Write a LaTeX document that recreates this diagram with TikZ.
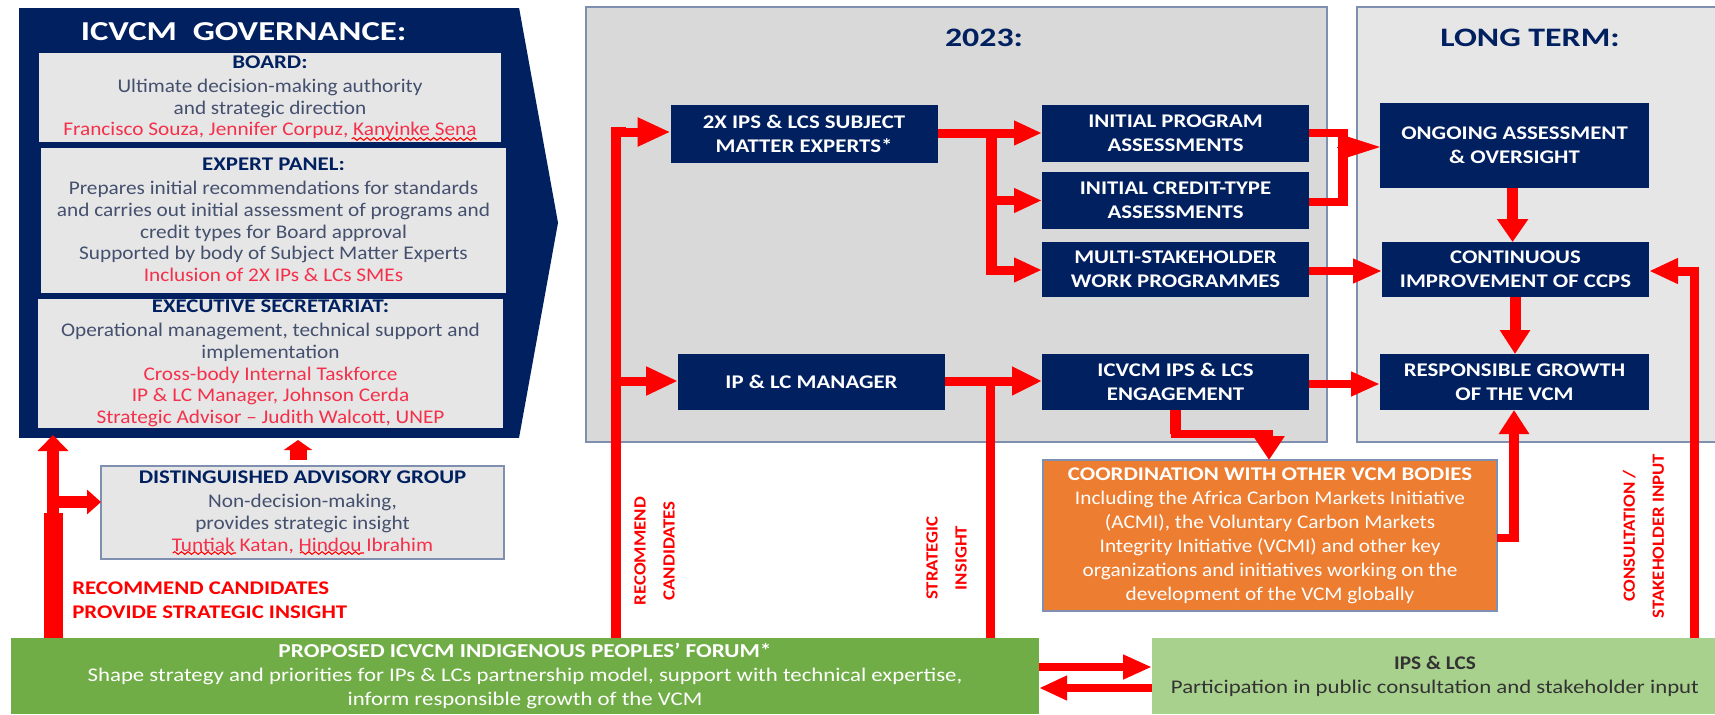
\documentclass[tikz,border=0pt]{standalone}
\usepackage{fontspec}
\setmainfont{Carlito}
\newfontfamily\fa[FakeStretch=1.10]{Carlito}
\newfontfamily\fb[FakeStretch=1.18]{Carlito}
\newfontfamily\fc[FakeStretch=1.27]{Carlito}
\usetikzlibrary{arrows.meta,decorations.pathmorphing}
\definecolor{navy}{HTML}{002060}
\definecolor{bodytx}{HTML}{44506E}
\definecolor{redtx}{HTML}{F5304A}
\definecolor{panelbd}{HTML}{7F8FB0}
\definecolor{pdark}{HTML}{D9D9D9}
\definecolor{plight}{HTML}{E6E6E6}
\definecolor{orangeb}{HTML}{ED7D31}
\definecolor{greend}{HTML}{70AD47}
\definecolor{greenl}{HTML}{A9D18E}
\def\u{0.75pt}
\newcommand{\rt}[1]{{\color{redtx}#1}}
\newcommand{\hd}[1]{{\color{navy}\fb\bfseries #1}}
\tikzset{
  sz/.style 2 args={minimum width=#1*\u,minimum height=#2*\u,inner sep=0pt,outer sep=0pt},
  graybox/.style={fill=plight,align=center,text=bodytx,font=\fa\fontsize{14.5}{16.3}\selectfont},
  panel/.style={draw=panelbd,line width=2.2pt},
  navybox/.style={fill=navy,text=white,align=center,font=\fb\fontsize{14.5}{18}\selectfont\bfseries},
  ln/.style={draw=red,line width=#1*\u},
  ln/.default=9,
  arw/.style 2 args={-{Triangle[length=#1*0.75pt,width=#2*0.75pt]}},
  lbl/.style={text=red,font=\fb\fontsize{14.5}{18}\selectfont\bfseries,align=center,inner sep=0pt},
  rotlbl/.style={text=red,rotate=90,font=\fa\fontsize{12.8}{21.8}\selectfont\bfseries,align=center,inner sep=0pt},
  squig/.style={draw=red,line width=0.8pt,decorate,decoration={snake,amplitude=1pt,segment length=5pt}}
}
\begin{document}
\begin{tikzpicture}[x=0.75pt,y=-0.75pt]
\useasboundingbox (0,0) rectangle (1715,714);
\clip (0,0) rectangle (1715,714);
% panels
\node[panel,fill=pdark,sz={741}{435}] (p23) at (956.5,224.5) {};
\node[panel,fill=plight,sz={374}{435}] (plt) at (1544,224.5) {};
\node[inner sep=0pt,font=\fc\fontsize{20}{24}\selectfont\bfseries,text=navy] (t23) at (984,38) {2023:};
\node[inner sep=0pt,font=\fc\fontsize{20}{24}\selectfont\bfseries,text=navy] (tlt) at (1530,38) {LONG TERM:};
% governance
\node[fill=navy,sz={500}{430.5}] (gov) at (269,222.75) {};
\fill[navy] (gov.north east) -- (558,222.7) -- (gov.south east) -- cycle;
\node[inner sep=0pt,text=white,font=\fc\fontsize{20.5}{24}\selectfont\bfseries] (tgov) at (243.6,32) {ICVCM\ \ GOVERNANCE:};
\node[graybox,sz={462}{89}] (board) at (270,97.5) {\hd{BOARD:}\\[1.6pt]Ultimate decision-making authority\\and strategic direction\\\rt{Francisco Souza, Jennifer Corpuz, Kanyinke Sena}};
\node[graybox,sz={465}{145}] (expert) at (273.5,220) {\hd{EXPERT PANEL:}\\[1.6pt]Prepares initial recommendations for standards\\and carries out initial assessment of programs and\\credit types for Board approval\\Supported by body of Subject Matter Experts\\\rt{Inclusion of 2X IPs \& LCs SMEs}};
\node[graybox,sz={465}{129}] (exec) at (270.5,363.5) {\hd{EXECUTIVE SECRETARIAT:}\\[1.6pt]Operational management, technical support and\\implementation\\\rt{Cross-body Internal Taskforce}\\\rt{IP \& LC Manager, Johnson Cerda}\\\rt{Strategic Advisor – Judith Walcott, UNEP}};
\node[graybox,draw=panelbd,line width=1.5pt,sz={403}{93}] (dag) at (302.5,512.5) {\hd{DISTINGUISHED ADVISORY GROUP}\\[1.6pt]Non-decision-making,\\provides strategic insight\\\rt{Tuntiak Katan, Hindou Ibrahim}};
\draw[squig] (351.6,139) -- (476.7,139);
\draw[squig] (172.7,553) -- (236,553);
\draw[squig] (300,553) -- (364,553);
% navy nodes
\node[navybox,sz={267}{58}] (sme) at (804,134) {2X IPS \& LCS SUBJECT\\MATTER EXPERTS*};
\node[navybox,sz={267}{57}] (prog) at (1175.5,133.5) {INITIAL PROGRAM\\ASSESSMENTS};
\node[navybox,sz={267}{57}] (cred) at (1175.5,200.5) {INITIAL CREDIT-TYPE\\ASSESSMENTS};
\node[navybox,sz={267}{55}] (multi) at (1175.5,269.5) {MULTI-STAKEHOLDER\\WORK PROGRAMMES};
\node[navybox,sz={267}{56}] (mgr) at (811.5,382) {IP \& LC MANAGER};
\node[navybox,sz={267}{56}] (eng) at (1175.5,382) {ICVCM IPS \& LCS\\ENGAGEMENT};
\node[navybox,sz={269}{85}] (ong) at (1514.5,145.5) {ONGOING ASSESSMENT\\\& OVERSIGHT};
\node[navybox,sz={267}{55}] (cont) at (1515.5,269.5) {CONTINUOUS\\IMPROVEMENT OF CCPS};
\node[navybox,sz={269}{56}] (resp) at (1514.5,382) {RESPONSIBLE GROWTH\\OF THE VCM};
% other boxes
\node[draw=panelbd,line width=1.5pt,fill=orangeb,text=white,align=center,font=\fa\fontsize{14.5}{18}\selectfont,sz={454}{151}] (coord) at (1270,535.5) {{\fb\bfseries COORDINATION WITH OTHER VCM BODIES}\\Including the Africa Carbon Markets Initiative\\(ACMI), the Voluntary Carbon Markets\\Integrity Initiative (VCMI) and other key\\organizations and initiatives working on the\\development of the VCM globally};
\node[fill=greend,text=white,align=center,font=\fb\fontsize{14.5}{18}\selectfont,sz={1028}{76}] (forum) at (525,676) {{\fontsize{14.8}{18}\selectfont\bfseries PROPOSED ICVCM INDIGENOUS PEOPLES’ FORUM*}\\Shape strategy and priorities for IPs \& LCs partnership model, support with technical expertise,\\inform responsible growth of the VCM};
\node[fill=greenl,sz={563}{76}] (ips) at (1433.5,676) {};
\node[inner sep=0pt,align=center,text=black!80,font=\fb\fontsize{14.5}{18}\selectfont] (ipst) at (1435,676) {{\fa\bfseries IPS \& LCS}\\Participation in public consultation and stakeholder input};
% labels
\node[lbl,anchor=west,align=left] (rec) at (72,600) {RECOMMEND CANDIDATES\\PROVIDE STRATEGIC INSIGHT};
\node[rotlbl] (l1) at (654.5,551) {RECOMMEND\\CANDIDATES};
\node[rotlbl] (l2) at (946.5,558) {STRATEGIC\\INSIGHT};
\node[rotlbl] (l3) at (1643.5,536) {CONSULTATION /\\STAKEHOLDER INPUT};
% connectors
\coordinate (jrec) at (616,132);
\coordinate (jrec2) at (616,381);
\coordinate (jsme) at (991,133);
\coordinate (jmgr) at (990,381);
\coordinate (jong) at (1343,133);
\coordinate (jcons) at (1694,271);
% forum to governance
\draw[ln=19] (53,638) -- (53,513);
\draw[ln=12,arw={16}{30}] (53,520) -- (53,435);
\draw[ln=12,arw={14}{24}] (53,502) -- (dag.west |- 0,502);
\draw[ln=17,arw={10}{28}] (298,460) -- (298,440);
% recommend candidates
\draw[ln=10] (forum.north -| jrec) -- (jrec) -- ++(10,0);
\draw[ln=9,arw={33}{27}] (jrec) -- (sme.west |- jrec);
\draw[ln=9,arw={32}{27}] (jrec2) -- (mgr.west |- jrec2);
% sme fan-out
\draw[ln=9] (sme.east |- jsme) -- (jsme);
\draw[ln=9,arw={28}{23}] (jsme) -- (prog.west |- jsme);
\draw[ln=11] (991,128.5) -- (991,274);
\draw[ln=9,arw={28}{23}] (991,200.5) -- (cred.west);
\draw[ln=9,arw={28}{23}] (985.5,270) -- (multi.west |- 0,270);
% manager
\draw[ln=9,arw={30}{27}] (mgr.east |- jmgr) -- (eng.west |- jmgr);
\draw[ln=9] (forum.north -| jmgr) -- (jmgr);
% to ongoing
\draw[ln=8] (prog.east |- jong) -- (1348,133);
\draw[ln=10] (1343,129) -- (1343,206);
\draw[ln=8] (cred.east |- 0,202) -- (1348,202);
\draw[ln=1,arw={41}{26}] (1337,147) -- (ong.west |- 0,147);
% long term flows
\draw[ln=8,arw={29}{23}] (multi.east |- 0,271) -- (cont.west |- 0,271);
\draw[ln=8,arw={29}{23}] (eng.east |- 0,384) -- (resp.west |- 0,384);
\draw[ln=11,arw={23}{30}] (ong.south -| 1512.6,0) -- (cont.north -| 1512.6,0);
\draw[ln=11,arw={24}{29}] (cont.south -| 1515,0) -- (resp.north -| 1515,0);
\draw[ln=9,arw={29}{24}] (ips.north -| jcons) -- (jcons) -- (cont.east |- jcons);
% engagement to coordination
\draw[ln=11] (eng.south) -- (1175.5,434);
\draw[ln=8,arw={24}{30}] (1171,434) -- (1269,434) -- (1269,460);
% coordination to responsible
\draw[ln=8] (coord.east |- 0,538) -- (1519,538);
\draw[ln=10,arw={24}{29}] (1514,542) -- (1514,410);
% forum <-> ips
\draw[ln=8,arw={29}{23}] (forum.east |- 0,667) -- (ips.west |- 0,667);
\draw[ln=8,arw={28}{23}] (ips.west |- 0,688) -- (forum.east |- 0,688);
\end{tikzpicture}
\end{document}
